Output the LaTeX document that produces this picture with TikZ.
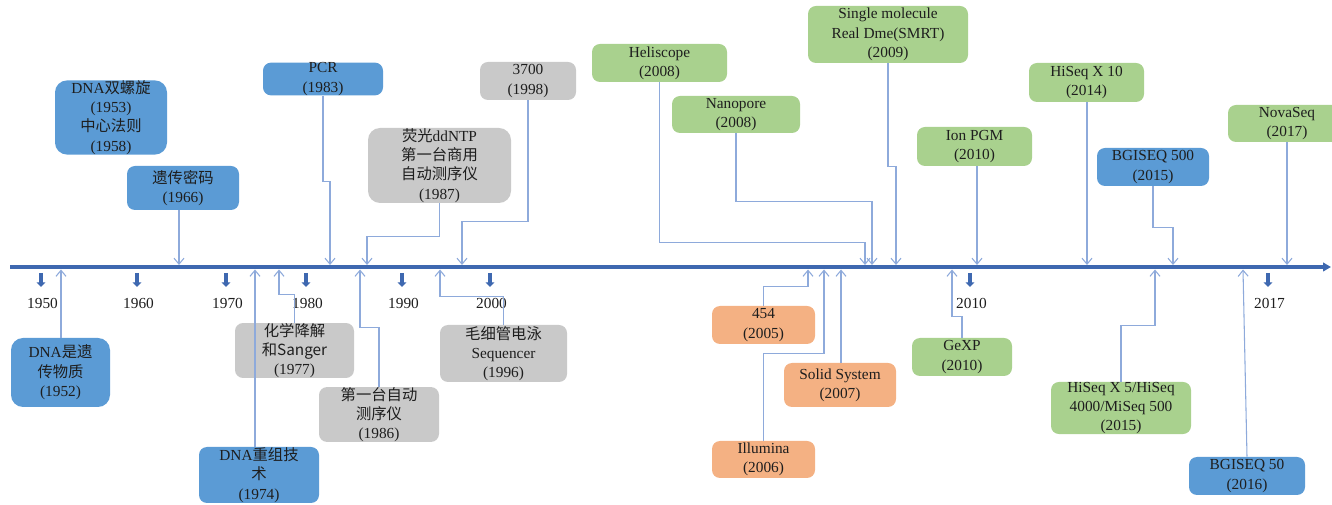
\documentclass[tikz,border=0pt]{standalone}
\usepackage{fontspec}
\setmainfont{Liberation Serif}
\newfontfamily\cjk{Noto Sans CJK SC}
\usepackage{tikz}
\usetikzlibrary{arrows.meta}
\definecolor{tlaxis}{HTML}{3E68B0}
\definecolor{tllink}{HTML}{8EAADB}
\definecolor{tlbio}{HTML}{5B9BD5}
\definecolor{tlsgr}{HTML}{C9C9C9}
\definecolor{tlngs}{HTML}{A9D18E}
\definecolor{tlsnd}{HTML}{F4B183}
\definecolor{tlink}{HTML}{1E1E1E}
\newcommand{\zh}[1]{{\cjk #1}}
\tikzset{
  evt/.style={rounded corners=6pt,inner sep=0pt,align=center,text=tlink,
              font=\fontsize{11.5}{14.5}\selectfont},
  sz/.style 2 args={minimum width=#1*0.75pt,minimum height=#2*0.75pt},
  bio/.style={evt,fill=tlbio},
  sgr/.style={evt,fill=tlsgr},
  ngs/.style={evt,fill=tlngs},
  snd/.style={evt,fill=tlsnd},
  link/.style={-{Straight Barb[length=4.5pt,width=7.5pt]},line width=0.8pt,draw=tllink},
}

\begin{document}
\begin{tikzpicture}[x=0.75pt,y=-0.75pt,
  axisline/.style={-{Triangle[length=6pt,width=6.5pt]},line width=2.8pt,draw=tlaxis},
  tickarr/.style={-{Triangle[length=3.5pt,width=6.5pt]},line width=2.8pt,draw=tlaxis},
  yrlab/.style={font=\fontsize{11.5}{14}\selectfont,text=tlink,inner sep=0pt}]

  \clip (0,0) rectangle (1332,505);

  % ---- axis ----
  \draw[axisline] (10,267) -- (1331,267);
  \foreach \x/\yr in {41/1950,137/1960,226/1970,306/1980,402/1990,490/2000,970/2010,1268/2017}{
    \draw[tickarr] (\x,273) -- (\x,287);
    \node[yrlab] (y\yr) at (\x+1.5,303) {\yr};
  }

  % ---- biology milestones ----
  \node[bio,sz={112}{69},rounded corners=9pt] (dh) at (111,117.5)
    {DNA\zh{双螺旋}\\(1953)\\\zh{中心法则}\\(1958)};
  \node[bio,sz={112}{44}] (gc) at (183,188) {\zh{遗传密码}\\(1966)};
  \node[bio,sz={120}{32}] (pcr) at (323,79) {PCR\\(1983)};
  \node[bio,sz={99}{69},rounded corners=9pt] (dw) at (60.5,372.5)
    {DNA\zh{是遗}\\\zh{传物质}\\(1952)};
  \node[bio,sz={120}{56}] (cz) at (259,475) {DNA\zh{重组技}\\\zh{术}\\(1974)};

  % ---- first generation ----
  \node[sgr,sz={119}{51}] (hx) at (294.5,350.5) {\zh{化学降解}\\\zh{和Sanger}\\(1977)};
  \node[sgr,sz={120}{51}] (dy) at (379,414.5) {\zh{第一台自动}\\\zh{测序仪}\\(1986)};
  \node[sgr,sz={143}{75},rounded corners=9pt] (yg) at (439.5,165.5)
    {\zh{荧光}ddNTP\\\zh{第一台商用}\\\zh{自动测序仪}\\(1987)};
  \node[sgr,sz={96}{38}] (s3700) at (528,81) {3700\\(1998)};
  \node[sgr,sz={127}{57}] (mx) at (503.5,353.5) {\zh{毛细管电泳}\\Sequencer\\(1996)};

  % ---- second generation ----
  \node[snd,sz={103}{38}] (f454) at (763.5,325) {454\\(2005)};
  \node[snd,sz={103}{37}] (illu) at (763.5,459.5) {Illumina\\(2006)};
  \node[snd,sz={112}{44}] (solid) at (840,385) {Solid System\\(2007)};

  % ---- later platforms ----
  \node[ngs,sz={135}{38}] (heli) at (659.5,63) {Heliscope\\(2008)};
  \node[ngs,sz={128}{37}] (nano) at (736,114.5) {Nanopore\\(2008)};
  \node[ngs,sz={160}{57}] (smrt) at (888,34.5) {Single molecule\\Real Dme(SMRT)\\(2009)};
  \node[ngs,sz={115}{39}] (ion) at (974.5,146.5) {Ion PGM\\(2010)};
  \node[ngs,sz={100}{38}] (gexp) at (962,357) {GeXP\\(2010)};
  \node[ngs,sz={115}{39}] (hx10) at (1086.5,82.5) {HiSeq X 10\\(2014)};
  \node[ngs,sz={140}{50}] (hx5) at (1121,408) {HiSeq X 5/HiSeq\\4000/MiSeq 500\\(2015)};
  \node[ngs,sz={118}{37}] (nova) at (1287,123.5) {NovaSeq\\(2017)};
  \node[bio,sz={112}{38}] (b500) at (1153,167) {BGISEQ 500\\(2015)};
  \node[bio,sz={116}{38}] (b50) at (1247,476) {BGISEQ 50\\(2016)};

  % ---- hit points on the axis ----
  \coordinate (h-gc) at (179,265);
  \coordinate (h-pcr) at (330,265);
  \coordinate (h-yg) at (367,265);
  \coordinate (h-s3700) at (462,265);
  \coordinate (h-heli) at (865,265);
  \coordinate (h-nano) at (872,265);
  \coordinate (h-smrt) at (896,265);
  \coordinate (h-ion) at (977,265);
  \coordinate (h-hx10) at (1087,265);
  \coordinate (h-b500) at (1173,265);
  \coordinate (h-nova) at (1287,265);
  \coordinate (h-dw) at (61,269.5);
  \coordinate (h-cz) at (255,269.5);
  \coordinate (h-hx) at (279,269.5);
  \coordinate (h-dy) at (360,269.5);
  \coordinate (h-mx) at (440,269.5);
  \coordinate (h-f454) at (808,269.5);
  \coordinate (h-illu) at (824,269.5);
  \coordinate (h-solid) at (841,269.5);
  \coordinate (h-gexp) at (952,269.5);
  \coordinate (h-hx5) at (1155,269.5);
  \coordinate (h-b50) at (1243,269.5);

  % ---- connectors above ----
  \draw[link] (gc.south -| h-gc) -- (h-gc);
  \draw[link] (pcr.south) -- ++(0,86) -| (h-pcr);
  \draw[link] (yg.south) -- ++(0,33) -| (h-yg);
  \draw[link] (s3700.south) -- ++(0,121) -| (h-s3700);
  \draw[link] (heli.south) -- ++(0,160) -| (h-heli);
  \draw[link] (nano.south) -- ++(0,68) -| (h-nano);
  \draw[link] (smrt.south) -- ++(0,103) -| (h-smrt);
  \draw[link] (ion.south -| h-ion) -- (h-ion);
  \draw[link] (hx10.south -| h-hx10) -- (h-hx10);
  \draw[link] (b500.south) -- ++(0,41) -| (h-b500);
  \draw[link] (nova.south) -- (h-nova);

  % ---- connectors below ----
  \draw[link] (dw.north -| h-dw) -- (h-dw);
  \draw[link] (cz.north -| h-cz) -- (h-cz);
  \draw[link] (hx.north) -- ++(0,-28) -| (h-hx);
  \draw[link] (dy.north) -- ++(0,-59) -| (h-dy);
  \draw[link] (mx.north) -- ++(0,-28) -| (h-mx);
  \draw[link] (f454.north) -- ++(0,-19) -| (h-f454);
  \draw[link] (illu.north) -- ++(0,-87) -| (h-illu);
  \draw[link] (solid.north -| h-solid) -- (h-solid);
  \draw[link] (gexp.north) -- ++(0,-21) -| (h-gexp);
  \draw[link] (hx5.north) -- ++(0,-56) -| (h-hx5);
  \draw[link] (b50.north) -- (h-b50);
\end{tikzpicture}
\end{document}
